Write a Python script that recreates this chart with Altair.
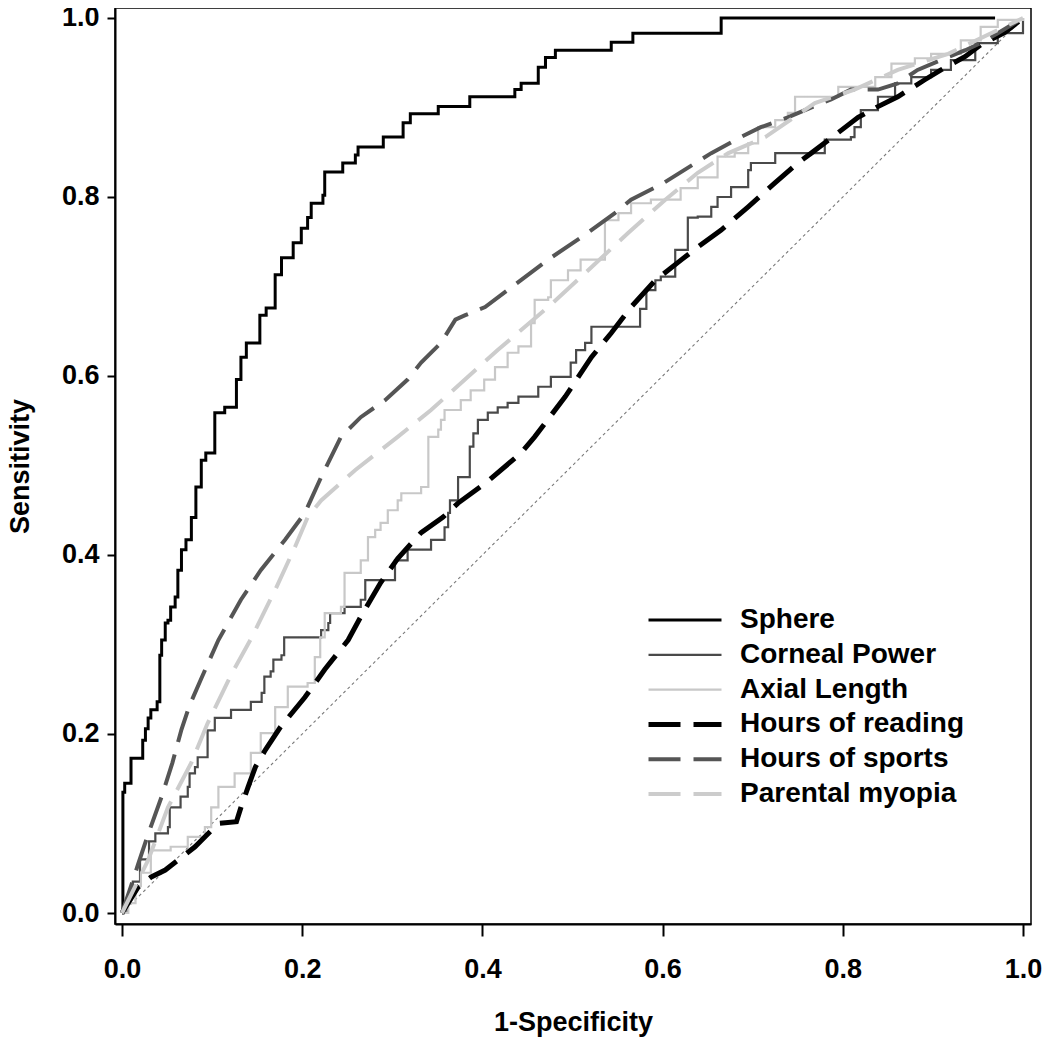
import altair as alt
import pandas as pd

# ---- series definitions ----
series_names = ["Sphere", "Corneal Power", "Axial Length",
                "Hours of reading", "Hours of sports", "Parental myopia"]
series_colors = ["#000000", "#4a4a4a", "#c8c8c8", "#000000", "#555555", "#cccccc"]
series_widths = [3, 2.2, 2.2, 5, 4, 4]
series_dash = [[1, 0], [1, 0], [1, 0], [32, 13], [32, 13], [32, 13]]
step_series = ["Sphere", "Corneal Power", "Axial Length"]

tick_values = [0.0, 0.2, 0.4, 0.6, 0.8, 1.0]

# ---- ROC data (1-specificity, sensitivity) ----
sphere_x = [0, 0.001, 0.003, 0.010, 0.023, 0.026, 0.029, 0.032, 0.039, 0.042,
            0.044, 0.048, 0.051, 0.054, 0.059, 0.062, 0.066, 0.071, 0.077, 0.082,
            0.088, 0.093, 0.103, 0.114, 0.127, 0.132, 0.138, 0.153, 0.160, 0.170,
            0.177, 0.190, 0.199, 0.206, 0.210, 0.223, 0.225, 0.245, 0.259, 0.262,
            0.290, 0.312, 0.320, 0.351, 0.386, 0.436, 0.443, 0.462, 0.470, 0.481,
            0.543, 0.567, 0.665, 0.969]
sphere_y = [0, 0.135, 0.145, 0.173, 0.193, 0.206, 0.218, 0.227, 0.236, 0.288,
            0.305, 0.324, 0.327, 0.342, 0.353, 0.383, 0.406, 0.417, 0.442, 0.476,
            0.506, 0.514, 0.559, 0.565, 0.596, 0.621, 0.637, 0.668, 0.676, 0.713,
            0.732, 0.749, 0.765, 0.777, 0.793, 0.802, 0.828, 0.838, 0.847, 0.856,
            0.867, 0.883, 0.893, 0.901, 0.912, 0.920, 0.927, 0.945, 0.956, 0.964,
            0.973, 0.983, 1.0, 1.0]

corneal_x = [0, 0.006, 0.012, 0.020, 0.030, 0.037, 0.051, 0.053, 0.065, 0.073,
             0.075, 0.081, 0.084, 0.095, 0.103, 0.121, 0.143, 0.155, 0.158, 0.165,
             0.168, 0.177, 0.180, 0.221, 0.229, 0.231, 0.247, 0.265, 0.270, 0.303,
             0.317, 0.343, 0.358, 0.362, 0.364, 0.373, 0.386, 0.390, 0.395, 0.406,
             0.417, 0.428, 0.440, 0.462, 0.476, 0.498, 0.504, 0.514, 0.521, 0.575,
             0.582, 0.592, 0.598, 0.614, 0.628, 0.639, 0.654, 0.661, 0.676, 0.695,
             0.698, 0.725, 0.780, 0.809, 0.813, 0.820, 0.839, 0.858, 0.876, 0.898,
             0.920, 0.947, 0.972, 1.0]
corneal_y = [0, 0.018, 0.035, 0.060, 0.080, 0.089, 0.096, 0.118, 0.130, 0.141,
             0.156, 0.163, 0.174, 0.204, 0.218, 0.227, 0.236, 0.246, 0.264, 0.270,
             0.283, 0.288, 0.308, 0.316, 0.324, 0.335, 0.342, 0.350, 0.372, 0.394,
             0.406, 0.417, 0.431, 0.447, 0.461, 0.487, 0.521, 0.536, 0.551, 0.559,
             0.565, 0.570, 0.577, 0.588, 0.599, 0.615, 0.629, 0.637, 0.655, 0.675,
             0.696, 0.707, 0.711, 0.741, 0.777, 0.778, 0.789, 0.800, 0.811, 0.830,
             0.838, 0.849, 0.864, 0.867, 0.878, 0.897, 0.912, 0.927, 0.934, 0.942,
             0.953, 0.972, 0.983, 1.0]

axial_x = [0, 0.007, 0.015, 0.021, 0.032, 0.054, 0.073, 0.092, 0.099, 0.107,
           0.125, 0.143, 0.154, 0.170, 0.184, 0.206, 0.214, 0.220, 0.225, 0.243,
           0.247, 0.265, 0.273, 0.281, 0.287, 0.295, 0.306, 0.310, 0.332, 0.340,
           0.351, 0.354, 0.358, 0.376, 0.387, 0.402, 0.414, 0.428, 0.440, 0.454,
           0.458, 0.473, 0.476, 0.495, 0.509, 0.536, 0.551, 0.565, 0.587, 0.620,
           0.639, 0.661, 0.680, 0.695, 0.706, 0.725, 0.739, 0.747, 0.795, 0.836,
           0.854, 0.880, 0.898, 0.931, 0.953, 0.972, 1.0]
axial_y = [0, 0.011, 0.030, 0.045, 0.070, 0.074, 0.085, 0.096, 0.118, 0.141,
           0.156, 0.179, 0.201, 0.230, 0.253, 0.257, 0.286, 0.308, 0.335, 0.342,
           0.380, 0.394, 0.420, 0.428, 0.436, 0.450, 0.461, 0.469, 0.476, 0.532,
           0.540, 0.551, 0.562, 0.573, 0.584, 0.596, 0.610, 0.626, 0.633, 0.659,
           0.685, 0.688, 0.707, 0.718, 0.730, 0.774, 0.782, 0.793, 0.797, 0.810,
           0.822, 0.845, 0.849, 0.860, 0.878, 0.886, 0.894, 0.912, 0.923, 0.934,
           0.949, 0.955, 0.960, 0.975, 0.990, 0.998, 1.0]

reading_x = [0, 0.018, 0.032, 0.048, 0.062, 0.081, 0.107, 0.127, 0.132, 0.140,
             0.148, 0.159, 0.176, 0.203, 0.225, 0.251, 0.265, 0.287, 0.306, 0.332,
             0.356, 0.373, 0.403, 0.443, 0.458, 0.492, 0.521, 0.543, 0.565, 0.592,
             0.621, 0.639, 0.665, 0.695, 0.725, 0.750, 0.765, 0.795, 0.817, 0.839,
             0.861, 0.891, 0.909, 0.936, 0.953, 0.980, 1.0]
reading_y = [0, 0.029, 0.040, 0.048, 0.059, 0.074, 0.100, 0.102, 0.118, 0.141,
             0.163, 0.182, 0.208, 0.241, 0.272, 0.305, 0.331, 0.369, 0.396, 0.425,
             0.442, 0.458, 0.480, 0.514, 0.532, 0.577, 0.621, 0.648, 0.677, 0.707,
             0.730, 0.744, 0.763, 0.789, 0.816, 0.838, 0.849, 0.872, 0.889, 0.901,
             0.912, 0.931, 0.942, 0.957, 0.970, 0.984, 1.0]

sports_x = [0, 0.010, 0.018, 0.029, 0.044, 0.056, 0.066, 0.075, 0.088, 0.107,
            0.132, 0.154, 0.181, 0.203, 0.221, 0.243, 0.265, 0.292, 0.317, 0.332,
            0.354, 0.370, 0.381, 0.403, 0.428, 0.473, 0.517, 0.547, 0.565, 0.600,
            0.654, 0.687, 0.709, 0.739, 0.758, 0.787, 0.809, 0.839, 0.861, 0.883,
            0.909, 0.936, 0.953, 0.972, 1.0]
sports_y = [0, 0.030, 0.055, 0.088, 0.130, 0.168, 0.205, 0.232, 0.262, 0.305,
            0.350, 0.383, 0.417, 0.447, 0.487, 0.532, 0.554, 0.573, 0.596, 0.615,
            0.637, 0.663, 0.668, 0.677, 0.696, 0.730, 0.760, 0.782, 0.797, 0.815,
            0.849, 0.867, 0.878, 0.889, 0.897, 0.909, 0.920, 0.920, 0.927, 0.942,
            0.953, 0.964, 0.972, 0.983, 1.0]

parental_x = [0, 0.029, 0.051, 0.077, 0.095, 0.121, 0.143, 0.170, 0.192, 0.206,
              0.221, 0.259, 0.306, 0.343, 0.417, 0.473, 0.514, 0.562, 0.603, 0.639,
              0.673, 0.714, 0.769, 0.813, 0.861, 0.917, 1.0]
parental_y = [0, 0.059, 0.118, 0.168, 0.212, 0.266, 0.306, 0.361, 0.409, 0.442,
              0.461, 0.495, 0.532, 0.562, 0.629, 0.677, 0.715, 0.760, 0.797, 0.827,
              0.849, 0.867, 0.905, 0.920, 0.942, 0.960, 1.0]

diag_x = [0.0, 1.0]
diag_y = [0.0, 1.0]

series_data = {
    "Sphere": (sphere_x, sphere_y),
    "Corneal Power": (corneal_x, corneal_y),
    "Axial Length": (axial_x, axial_y),
    "Hours of reading": (reading_x, reading_y),
    "Hours of sports": (sports_x, sports_y),
    "Parental myopia": (parental_x, parental_y),
}


def step_vertices(xs, ys):
    vx, vy = [xs[0]], [ys[0]]
    for i in range(1, len(xs)):
        vx += [xs[i], xs[i]]
        vy += [ys[i - 1], ys[i]]
    return vx, vy


rows = []
for name in series_names:
    xs, ys = series_data[name]
    assert len(xs) == len(ys), name
    if name in step_series:
        xs, ys = step_vertices(xs, ys)
    for i, (a, b) in enumerate(zip(xs, ys)):
        rows.append({"series": name, "fpr": a, "tpr": b, "idx": i})
df = pd.DataFrame(rows)
diag_df = pd.DataFrame({"fpr": diag_x, "tpr": diag_y})

FONT = "Liberation Sans"

x_enc = alt.X(
    "fpr:Q",
    title="1-Specificity",
    scale=alt.Scale(domain=[-0.00777, 1.00888], nice=False, zero=False),
    axis=alt.Axis(values=tick_values, format=".1f", grid=False,
                  tickSize=12, labelPadding=20, titlePadding=27,
                  labelFontSize=27, titleFontSize=27),
)
y_enc = alt.Y(
    "tpr:Q",
    title="Sensitivity",
    scale=alt.Scale(domain=[-0.01229, 1.01117], nice=False, zero=False),
    axis=alt.Axis(values=tick_values, format=".1f", grid=False,
                  tickSize=8, labelPadding=8, titlePadding=27,
                  labelFontSize=27, titleFontSize=27),
)

legend = alt.Legend(
    title=None, orient="none", legendX=531, legendY=598,
    symbolType="stroke", symbolSize=5329, clipHeight=28, rowPadding=6.8,
    labelFont=FONT, labelFontSize=28, labelFontWeight="bold",
    labelColor="#000000", labelOffset=16, labelLimit=500, padding=0,
    direction="vertical",
)

diag = alt.Chart(diag_df).mark_line(
    color="#7a7a7a", strokeWidth=1.1, strokeDash=[3, 3]
).encode(x=x_enc, y=y_enc)

lines = alt.Chart(df).mark_line(strokeJoin="miter", strokeCap="butt").encode(
    x=x_enc,
    y=y_enc,
    color=alt.Color("series:N",
                    scale=alt.Scale(domain=series_names, range=series_colors),
                    legend=legend),
    strokeDash=alt.StrokeDash("series:N",
                              scale=alt.Scale(domain=series_names, range=series_dash),
                              legend=legend),
    strokeWidth=alt.StrokeWidth("series:N",
                                scale=alt.Scale(type="ordinal", domain=series_names,
                                                range=series_widths),
                                legend=legend),
    order=alt.Order("idx:Q"),
)

chart = alt.layer(diag, lines).properties(
    width=916, height=916,
    autosize=alt.AutoSizeParams(type="none"),
    padding={"left": 107, "top": 0, "right": 11, "bottom": 114},
    background="white",
).configure_view(
    stroke="#000000", strokeWidth=1.5
).configure_axis(
    labelFont=FONT, titleFont=FONT,
    labelFontWeight="bold", titleFontWeight="bold",
    labelColor="#000000", titleColor="#000000",
    domainColor="#000000", domainWidth=2,
    tickColor="#000000", tickWidth=2,
)

chart.save("out.html", embed_options={"renderer": "svg", "actions": False})
